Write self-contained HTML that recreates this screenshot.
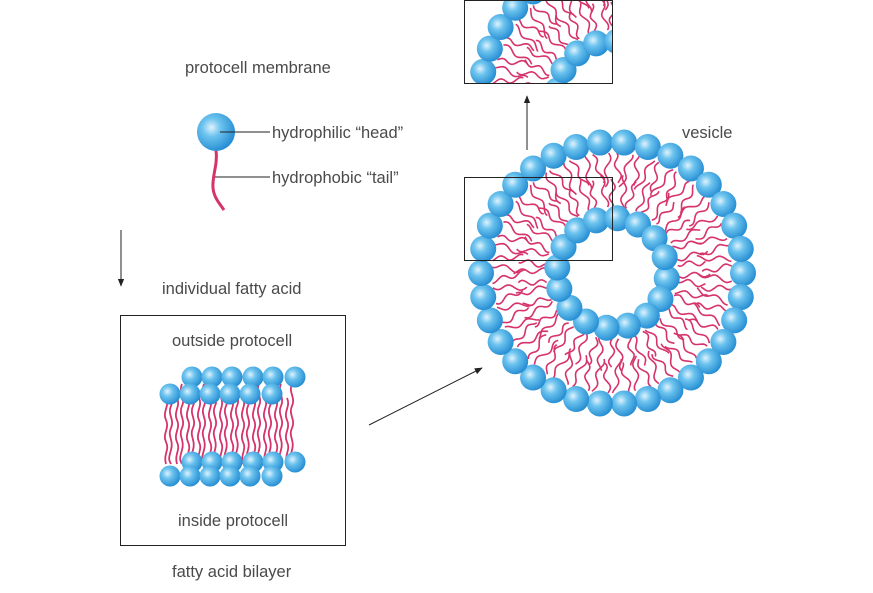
<!DOCTYPE html>
<html><head><meta charset="utf-8"><style>
html,body{margin:0;padding:0;background:#fff;}
svg{display:block;}
text{font-family:"Liberation Sans",sans-serif;font-size:16.5px;fill:#4a4a4a;}
</style></head><body>
<svg id="s" width="873" height="593" viewBox="0 0 873 593" xmlns="http://www.w3.org/2000/svg">
<defs>
<radialGradient id="hg" cx="0.38" cy="0.38" r="0.7">
<stop offset="0" stop-color="#dff2fd"/><stop offset="0.35" stop-color="#6cc3ee"/><stop offset="1" stop-color="#1c86cf"/>
</radialGradient>
<marker id="ar" viewBox="0 0 10 10" refX="9" refY="5" markerWidth="8" markerHeight="8" orient="auto"><path d="M0,1 L10,5 L0,9 z" fill="#222"/></marker>
<clipPath id="ic"><rect x="464" y="0" width="149" height="83"/></clipPath>
</defs>
<text x="185" y="73">protocell membrane</text>
<path d="M216,150 C218,165 212,175 213,188 C214,198 220,204 224,210" stroke="#d6336c" stroke-width="3" fill="none"/>
<circle cx="216" cy="132" r="19" fill="url(#hg)"/>
<line x1="220" y1="132" x2="270" y2="132" stroke="#222" stroke-width="1"/>
<line x1="215" y1="177" x2="270" y2="177" stroke="#222" stroke-width="1"/>
<text x="272" y="138">hydrophilic “head”</text>
<text x="272" y="183">hydrophobic “tail”</text>
<line x1="121" y1="230" x2="121" y2="286" stroke="#222" stroke-width="1" marker-end="url(#ar)"/>
<text x="162" y="294">individual fatty acid</text>
<rect x="120.5" y="315.5" width="225" height="230" fill="none" stroke="#222" stroke-width="1"/>
<text x="172" y="346">outside protocell</text>
<text x="178" y="526">inside protocell</text>
<text x="172" y="577">fatty acid bilayer</text>
<g id="bil"></g>
<line x1="369" y1="425" x2="482" y2="368" stroke="#222" stroke-width="1" marker-end="url(#ar)"/>
<g id="ves"></g>
<rect x="464.5" y="177.5" width="148" height="83" fill="none" stroke="#222" stroke-width="1"/>
<g clip-path="url(#ic)"><use href="#ves" transform="translate(0,-177)"/></g>
<rect x="464.5" y="0.5" width="148" height="83" fill="none" stroke="#222" stroke-width="1"/>
<line x1="527" y1="150" x2="527" y2="96" stroke="#222" stroke-width="1" marker-end="url(#ar)"/>
<text x="682" y="138">vesicle</text>
</svg>
<script>
var NS="http://www.w3.org/2000/svg";
function el(p,n,a){var e=document.createElementNS(NS,n);for(var k in a)e.setAttribute(k,a[k]);p.appendChild(e);return e;}
var T="#d6336c";
var b=document.getElementById("bil");
var i,x;
var tl=el(b,"g",{stroke:T,"stroke-width":1.8,fill:"none"});
for(i=0;i<12;i++){x=166+i*11;
 el(tl,"path",{d:"M"+x+",398 c4,8 -4,14 0,22 s-4,14 0,22 s-3,12 0,22"});
 el(tl,"path",{d:"M"+(x+5)+",384 c-4,8 4,14 0,22 s4,14 0,22 s3,12 0,22 s-2,10 0,14"});}
[192,212,232,253,273,295].forEach(function(x){el(b,"circle",{cx:x,cy:377,r:10.5,fill:"url(#hg)"});});
[170,190,210,230,250,272].forEach(function(x){el(b,"circle",{cx:x,cy:394,r:10.5,fill:"url(#hg)"});});
[192,212,232,253,273,295].forEach(function(x){el(b,"circle",{cx:x,cy:462,r:10.5,fill:"url(#hg)"});});
[170,190,210,230,250,272].forEach(function(x){el(b,"circle",{cx:x,cy:476,r:10.5,fill:"url(#hg)"});});
var v=document.getElementById("ves"),cx=612,cy=273;
var vt=el(v,"g",{stroke:T,"stroke-width":1.6,fill:"none"});
function pt(r,a,o){return [cx+r*Math.cos(a)-o*Math.sin(a), cy+r*Math.sin(a)+o*Math.cos(a)];}
function wavy(r0,r1,a,o0,o1,ph){var p="",n=14;for(var k=0;k<=n;k++){var t=k/n,r=r0+(r1-r0)*t,o=o0+(o1-o0)*t+2.5*Math.sin(t*Math.PI*3+ph);var q=pt(r,a,o);p+=(k?"L":"M")+q[0].toFixed(1)+","+q[1].toFixed(1);}return p;}
var N=34;
for(i=0;i<N;i++){var a=(i+0.5)/N*2*Math.PI;
 el(vt,"path",{d:wavy(120,86,a,-3,-7,i)});
 el(vt,"path",{d:wavy(120,90,a,3,8,i+1)});
}
var N2=26;
for(i=0;i<N2;i++){var a=(i+0.3)/N2*2*Math.PI;
 el(vt,"path",{d:wavy(66,98,a,-2,-6,i*2)});
 el(vt,"path",{d:wavy(66,94,a,2,6,i*2+1)});
}
var M=34;
for(i=0;i<M;i++){var a2=i/M*2*Math.PI;el(v,"circle",{cx:cx+131*Math.cos(a2),cy:cy+131*Math.sin(a2),r:13,fill:"url(#hg)"});}
var K=16;
for(i=0;i<K;i++){var a3=i/K*2*Math.PI+0.1;el(v,"circle",{cx:cx+55*Math.cos(a3),cy:cy+55*Math.sin(a3),r:13,fill:"url(#hg)"});}
</script>
</body></html>
